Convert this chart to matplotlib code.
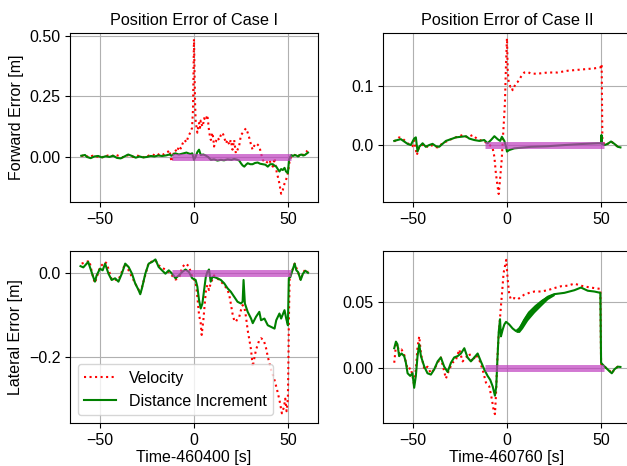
import numpy as np
import matplotlib.pyplot as plt

plt.rcParams['font.family'] = ['Liberation Sans', 'DejaVu Sans']
plt.rcParams['font.size'] = 11.5

# ---- Case I, forward error ----
t_fv = [-60, -58, -56, -54, -52, -50, -48, -46, -44, -42, -40, -38, -36, -34, -32, -30, -28, -26, -24, -22,
        -20, -18, -16, -14, -13, -12, -11, -10, -9, -8, -7, -6, -5, -4, -3, -2, -1, -0.5, 0, 0.3,
        0.6, 0.9, 1.4, 1.8, 2.3, 2.7, 3.2, 3.6, 4.1, 4.5, 5, 5.4, 6.2, 7.1, 7.6, 8, 8.5, 9, 9.8, 10.3,
        10.7, 11.2, 11.6, 12.5, 13.4, 14.3, 15.2, 16, 17, 17.9, 18.8, 19.6, 20.5, 21.4, 22.3, 23.2, 24, 25, 26, 26.8,
        27.7, 28.6, 29.5, 30.4, 31.2, 32, 33, 34, 34.8, 35.7, 36.6, 37.5, 38.4, 39.3, 40.2, 41, 42, 42.9, 43.8, 44.6,
        45.5, 46.4, 47.3, 48.2, 49, 50, 51, 51.8, 52.7, 53.6, 54.5, 55.4, 56.3, 57, 58, 59, 60.4]
v_fv = [0.003, 0.008, -0.002, 0.005, 0.0, 0.004, -0.003, 0.006, 0.002, 0.01, 0.004, -0.002, 0.008, 0.003, 0.0, 0.005, 0.002, -0.003, 0.006, 0.01,
        0.004, 0.015, 0.01, 0.02, 0.028, -0.02, 0.01, 0.03, 0.02, 0.045, 0.035, 0.056, 0.07, 0.06, 0.085, 0.1, 0.12, 0.2, 0.486, 0.35,
        0.22, 0.15, 0.12, 0.1, 0.125, 0.14, 0.12, 0.15, 0.135, 0.125, 0.14, 0.16, 0.15, 0.173, 0.14, 0.11, 0.085, 0.07, 0.1, 0.075,
        0.043, 0.06, 0.063, 0.08, 0.07, 0.09, 0.1, 0.084, 0.056, 0.07, 0.05, 0.07, 0.03, 0.07, 0.015, 0.03, 0.043, 0.09, 0.1, 0.11,
        0.118, 0.1, 0.077, 0.05, 0.03, 0.045, 0.056, 0.05, 0.043, 0.015, -0.012, -0.02, -0.026, -0.018, -0.012, -0.03, -0.04, -0.005, -0.054, -0.08,
        -0.11, -0.152, -0.136, -0.11, -0.095, -0.067, -0.012, 0.0, 0.01, 0.008, 0.003, 0.0, 0.01, 0.015, 0.008, 0.015, 0.026]
t_fd = [-60, -58, -57, -55, -53, -51, -49, -47, -45, -43, -41, -39, -37, -35, -33, -31, -29, -27, -25, -23,
        -21, -19, -17, -15, -13, -12, -10, -8, -6, -4, -2, -0.9, 0, 0.9, 1.8, 2.7, 3.6, 5, 6.2, 7.5,
        9, 10.7, 12.5, 14.3, 16, 17.9, 20, 21.4, 23.2, 24.1, 25, 25.9, 26.8, 27.7, 28.6, 30, 31.2, 32.5, 33.9, 35.2,
        36.6, 38, 39.3, 40.6, 42, 42.9, 43.8, 44.6, 45.5, 46.4, 47.3, 48.2, 49, 50, 50.6, 51.2, 51.8, 52.7, 53.6, 54.5,
        55.4, 56.3, 57.2, 58.1, 59, 60.7]
v_fd = [0.005, 0.008, 0.0, -0.005, 0.002, 0.004, -0.002, 0.003, 0.0, 0.005, -0.004, -0.006, 0.002, 0.01, 0.004, -0.003, 0.002, -0.002, 0.0, 0.004,
        0.002, 0.006, 0.004, 0.006, 0.01, 0.005, 0.015, 0.01, 0.014, 0.018, 0.012, 0.015, -0.012, 0.001, 0.02, 0.03, 0.008, 0.01, 0.006, 0.0,
        -0.012, -0.01, -0.015, -0.012, -0.014, -0.01, -0.012, -0.008, -0.012, -0.015, -0.026, -0.035, -0.04, -0.032, -0.026, -0.03, -0.03, -0.025, -0.023, -0.028,
        -0.03, -0.032, -0.04, -0.03, -0.03, -0.036, -0.04, -0.05, -0.06, -0.05, -0.054, -0.045, -0.06, -0.067, -0.012, 0.0, 0.008, 0.004, 0.008, 0.006,
        0.002, 0.008, 0.01, 0.006, 0.008, 0.018]

# ---- Case I, lateral error ----
t_lv = [-59.8, -57.1, -55.7, -53.6, -52.7, -50, -47.3, -46.4, -43.8, -40.2, -36.6, -31.3, -29.5, -28.6, -24.1, -20.5, -18.8, -13.4, -9.8, -8,
        -6.3, -4.5, -2.7, -0.9, 0.9, 1.8, 2.7, 3.6, 4.1, 5, 6.3, 7.1, 8, 8.9, 10.7, 13.4, 16.1, 17.9, 18.8, 19.6,
        20.5, 21.4, 22.3, 23.2, 24.1, 25, 25.9, 26.8, 27.7, 28.6, 29.5, 30.4, 31.3, 32.1, 33, 33.9, 34.8, 35.7, 37.1, 38.4,
        39.3, 40.2, 41.1, 42.9, 44.3, 45.5, 46.8, 47.9, 48.6, 49.3, 50, 50.3, 50.5, 50.9, 51.4, 52.7, 53.6, 55.4, 56.8, 58,
        59.3, 60.7]
v_lv = [0.022, 0.026, 0.029, -0.013, -0.024, 0.014, 0.026, 0.022, -0.016, -0.017, 0.022, -0.025, -0.04, -0.049, 0.024, 0.03, 0.018, 0.002, -0.016, -0.013,
        0.013, 0.022, 0.016, -0.01, -0.021, -0.057, -0.1, -0.12, -0.148, -0.113, -0.045, -0.029, -0.041, -0.025, -0.006, -0.017, -0.029, -0.041, -0.053, -0.073,
        -0.097, -0.113, -0.117, -0.109, -0.105, -0.089, -0.077, -0.081, -0.105, -0.137, -0.16, -0.184, -0.224, -0.204, -0.184, -0.172, -0.16, -0.156, -0.16, -0.18,
        -0.2, -0.216, -0.232, -0.256, -0.28, -0.303, -0.335, -0.32, -0.3, -0.33, -0.3, -0.2, -0.12, -0.017, -0.002, 0.01, 0.022, 0.002, -0.017, 0.0,
        0.008, 0.002]
t_ld = [-60.4, -58.9, -57.1, -56.3, -55.4, -53.6, -52.7, -51.8, -50, -48.6, -47.3, -45.5, -43.8, -42, -40.2, -38.4, -36.6, -34.8, -33, -31.3,
        -29.5, -28.6, -27.7, -25.9, -24.1, -22.3, -20.5, -18.8, -17, -15.2, -13.4, -11.6, -9.8, -8, -6.3, -4.5, -2.7, -0.9, 0.9, 1.8,
        2.7, 3.6, 4.5, 5.4, 6.3, 7.1, 8, 8.9, 9.8, 10.7, 12.5, 14.3, 16.1, 17.9, 19.6, 21.4, 23.2, 25, 25.9, 26.4,
        27.1, 28.6, 30.4, 31.3, 33, 34.8, 35.7, 37.5, 39.3, 41.1, 42.9, 43.8, 45.5, 46.4, 48.2, 49.1, 50, 50.5, 51.3, 52.7,
        53.6, 54.5, 55.4, 56.8, 58, 59.3, 60.7]
v_ld = [0.016, 0.013, 0.022, 0.026, 0.014, -0.01, -0.021, -0.006, 0.01, 0.006, 0.022, -0.002, -0.017, -0.013, -0.021, -0.002, 0.022, 0.014, -0.002, -0.025,
        -0.041, -0.051, -0.037, -0.002, 0.022, 0.026, 0.032, 0.014, 0.006, -0.002, 0.006, -0.002, -0.013, -0.006, 0.002, 0.008, 0.002, -0.013, -0.017, -0.033,
        -0.065, -0.085, -0.073, -0.041, -0.01, 0.002, 0.008, -0.021, -0.01, -0.01, -0.013, -0.017, -0.025, -0.037, -0.045, -0.057, -0.069, -0.073, -0.069, -0.017,
        -0.073, -0.093, -0.109, -0.12, -0.105, -0.093, -0.113, -0.109, -0.125, -0.129, -0.133, -0.113, -0.097, -0.109, -0.089, -0.109, -0.125, -0.013, -0.01, 0.01,
        0.022, 0.006, 0.002, -0.017, -0.002, 0.005, 0.0]

# ---- Case II, forward error ----
t2_fv = [-60, -57.4, -55.6, -52.9, -50.3, -49.4, -48, -46.7, -44, -42.3, -40.5, -38.7, -36.9, -34.3, -31.6, -29, -26.3, -23.6, -21, -18.3,
         -15.6, -13, -10.3, -8.5, -7.6, -6.7, -5.9, -5, -4.4, -3.7, -2.8, -2, -1.1, -0.5, 0, 0.4, 0.9, 1.8, 2.5, 3,
         3.9, 4.8, 5.7, 7.5, 9.2, 11, 12.8, 16.3, 21.7, 27, 32.3, 39.4, 46.5, 50.1, 50.4, 50.8, 51.9, 53.6, 55.4, 57.2,
         59, 60.4]
v2_fv = [0.006, 0.013, 0.011, 0.003, -0.002, 0.008, -0.017, -0.003, 0.002, -0.003, 0.0, -0.003, -0.004, 0.003, 0.007, 0.011, 0.014, 0.017, 0.013, 0.017,
         0.0096, 0.007, 0.003, -0.002, -0.0056, -0.02, -0.048, -0.07, -0.083, -0.059, -0.025, 0.02, 0.07, 0.138, 0.181, 0.127, 0.107, 0.099, 0.1, 0.093,
         0.099, 0.105, 0.107, 0.116, 0.123, 0.124, 0.121, 0.121, 0.123, 0.123, 0.126, 0.128, 0.13, 0.132, 0.137, 0.0085, 0.0, 0.002, 0.006, 0.002,
         -0.003, -0.004]
t2_fd = [-60, -58.3, -56.5, -54.7, -52.9, -51.2, -49.4, -48.5, -47.6, -46.7, -44.9, -43.2, -41.4, -39.6, -37.8, -36.1, -34.3, -32.5, -29.8, -27.2,
         -24.5, -21.8, -20.1, -17.4, -14.7, -12.1, -10.3, -8.5, -6.7, -5, -3.6, -2.7, -1.4, -0.5, 0, 1.2, 3.9, 12.8, 21.7, 30.6,
         39.4, 48.3, 50.1, 50.3, 50.6, 51.9, 53.6, 55.4, 57.2, 59, 60.4]
v2_fd = [0.007, 0.0085, 0.01, 0.006, 0.002, 0.0, 0.011, 0.013, -0.011, -0.003, 0.003, -0.003, 0.0, 0.002, -0.002, -0.003, 0.002, 0.007, 0.01, 0.013,
         0.014, 0.015, 0.011, 0.0085, 0.007, 0.0085, 0.003, 0.0085, 0.015, 0.01, 0.007, 0.014, 0.007, -0.003, -0.011, -0.0085, -0.0056, -0.003, -0.002, 0.0,
         0.0017, 0.003, 0.003, 0.017, 0.002, 0.0, 0.002, 0.006, 0.002, -0.003, -0.004]

# ---- Case II, lateral error ----
t2_lv = [-60, -59.1, -58.3, -57.4, -56.1, -54.7, -52.9, -51.2, -50.3, -49.4, -48.5, -47.6, -46.7, -45.8, -44, -42.3, -40.5, -38.7, -36.9, -35.2,
         -32.5, -30.7, -29, -27.2, -25.4, -23.6, -21.8, -20.1, -18.3, -16.5, -14.7, -13, -11.2, -9.4, -8, -7.1, -6.4, -5.9, -5.2, -4.6,
         -3.9, -3.2, -2.5, -1.8, -1.1, -0.4, 0.4, 1.2, 2.1, 3.9, 5.7, 7.5, 9.2, 11.9, 14.6, 18.1, 21.7, 25.2, 28.8, 32.3,
         35.9, 39.4, 43, 46.5, 49.7, 50.1, 51, 52.8, 54.6, 55.8, 57.2, 59, 60.4]
v2_lv = [0.004, 0.017, 0.018, 0.011, 0.014, 0.01, -0.001, 0.0, -0.006, -0.013, -0.001, 0.016, 0.024, 0.011, -0.001, 0.001, -0.004, -0.001, 0.004, 0.008,
         -0.008, -0.001, 0.004, 0.006, 0.014, 0.005, 0.008, 0.011, 0.005, 0.01, 0.006, -0.001, -0.011, -0.014, -0.024, -0.032, -0.035, -0.022, 0.004, 0.021,
         0.034, 0.047, 0.059, 0.072, 0.077, 0.082, 0.067, 0.056, 0.052, 0.053, 0.052, 0.054, 0.0556, 0.057, 0.058, 0.058, 0.059, 0.0606, 0.062, 0.0624,
         0.064, 0.0624, 0.0614, 0.0606, 0.06, 0.003, 0.0025, 0.0, -0.002, -0.004, -0.001, 0.001, 0.001]
t2_ld = [-60, -59.1, -58.3, -57.4, -56.1, -54.7, -53.8, -52.9, -51.5, -50.3, -49.4, -48.5, -47.6, -46.7, -45.8, -44, -42.3, -40.5, -38.7, -36.9,
         -35.2, -33.4, -31.6, -29.8, -28.1, -26.3, -24.5, -22.7, -21, -19.2, -17.4, -15.6, -13.9, -12.1, -10.3, -8.9, -7.6, -6.4, -5.7, -5,
         -4.4, -3.7, -3.2, -2.3, -1.4, -0.5, 1.2, 3, 4.8, 6.6, 8.3, 11, 14.6, 18.1, 21.7, 25.2, 30.6, 35.9, 39.4, 43,
         46.5, 49.7, 50.1, 51, 52.8, 54.6, 55.8, 57.2, 59, 60.4]
v2_ld = [0.015, 0.02, 0.018, 0.009, 0.011, 0.009, 0.004, -0.004, -0.006, -0.004, -0.015, -0.006, 0.009, 0.018, 0.009, 0.001, -0.004, -0.005, -0.001, 0.005,
         0.008, 0.001, -0.003, 0.004, 0.008, 0.009, 0.011, 0.015, 0.008, 0.005, 0.008, 0.011, 0.005, -0.001, -0.006, -0.009, -0.014, -0.021, -0.014, 0.009,
         0.027, 0.037, 0.024, 0.029, 0.033, 0.035, 0.033, 0.03, 0.028, 0.03, 0.034, 0.04, 0.045, 0.05, 0.054, 0.056, 0.057, 0.059, 0.061, 0.0586,
         0.058, 0.057, 0.004, 0.0025, 0.0, -0.0025, -0.004, -0.001, 0.001, 0.0008]
# spread of the dense green oscillation in case II lateral
t2_env = [4.8, 6.6, 8.3, 11, 14.6, 18.1, 21.7, 25.2]
lo2_env = [0.027, 0.027, 0.030, 0.036, 0.042, 0.047, 0.052, 0.055]
hi2_env = [0.029, 0.032, 0.037, 0.043, 0.048, 0.052, 0.055, 0.057]

# magenta interval at zero
band1 = [-11.6, 51.8]
band2 = [-11.5, 51.5]

titles = ['Position Error of Case I', 'Position Error of Case II']
xlabels = ['Time-460400 [s]', 'Time-460760 [s]']

fig = plt.figure(figsize=(6.27, 4.66), dpi=100)
ax_tl = fig.add_axes([0.1116, 0.5665, 0.3955, 0.3627])
ax_tr = fig.add_axes([0.6108, 0.5665, 0.3955, 0.3627])
ax_bl = fig.add_axes([0.1116, 0.0923, 0.3955, 0.369])
ax_br = fig.add_axes([0.6108, 0.0923, 0.3955, 0.369])

panels = [
    (ax_tl, t_fv, v_fv, t_fd, v_fd, band1, (-0.186, 0.5115), [0, 0.25, 0.5]),
    (ax_tr, t2_fv, v2_fv, t2_fd, v2_fd, band2, (-0.0966, 0.19), [0, 0.1]),
    (ax_bl, t_lv, v_lv, t_ld, v_ld, band1, (-0.358, 0.052), [-0.2, 0.0]),
    (ax_br, t2_lv, v2_lv, t2_ld, v2_ld, band2, (-0.0417, 0.0887), [0, 0.05]),
]

for ax, tv, vv, td, vd, band, ylim, yt in panels:
    ax.grid(True, color='#b0b0b0', lw=0.8)
    ax.set_axisbelow(True)
    ax.plot(tv, vv, ':', color='red', lw=1.5, label='Velocity')
    ax.plot(td, vd, '-', color='green', lw=1.5, label='Distance Increment')
    ax.plot(band, [0, 0], '-', color='#bf3fbf', lw=5, alpha=0.7, solid_capstyle='butt')
    ax.set_xlim(-66, 66)
    ax.set_ylim(*ylim)
    ax.set_xticks([-50, 0, 50])
    ax.set_yticks(yt)

ax_br.fill_between(t2_env, lo2_env, hi2_env, color='green', lw=0)

ax_tl.set_title(titles[0], fontsize=11.7)
ax_tr.set_title(titles[1], fontsize=11.7)
ax_tl.set_ylabel('Forward Error [m]')
ax_bl.set_ylabel('Lateral Error [m]')
ax_bl.set_xlabel(xlabels[0], labelpad=2)
ax_br.set_xlabel(xlabels[1], labelpad=2)
ax_bl.legend(loc='lower left')

fig.savefig('out.png', dpi=100)
